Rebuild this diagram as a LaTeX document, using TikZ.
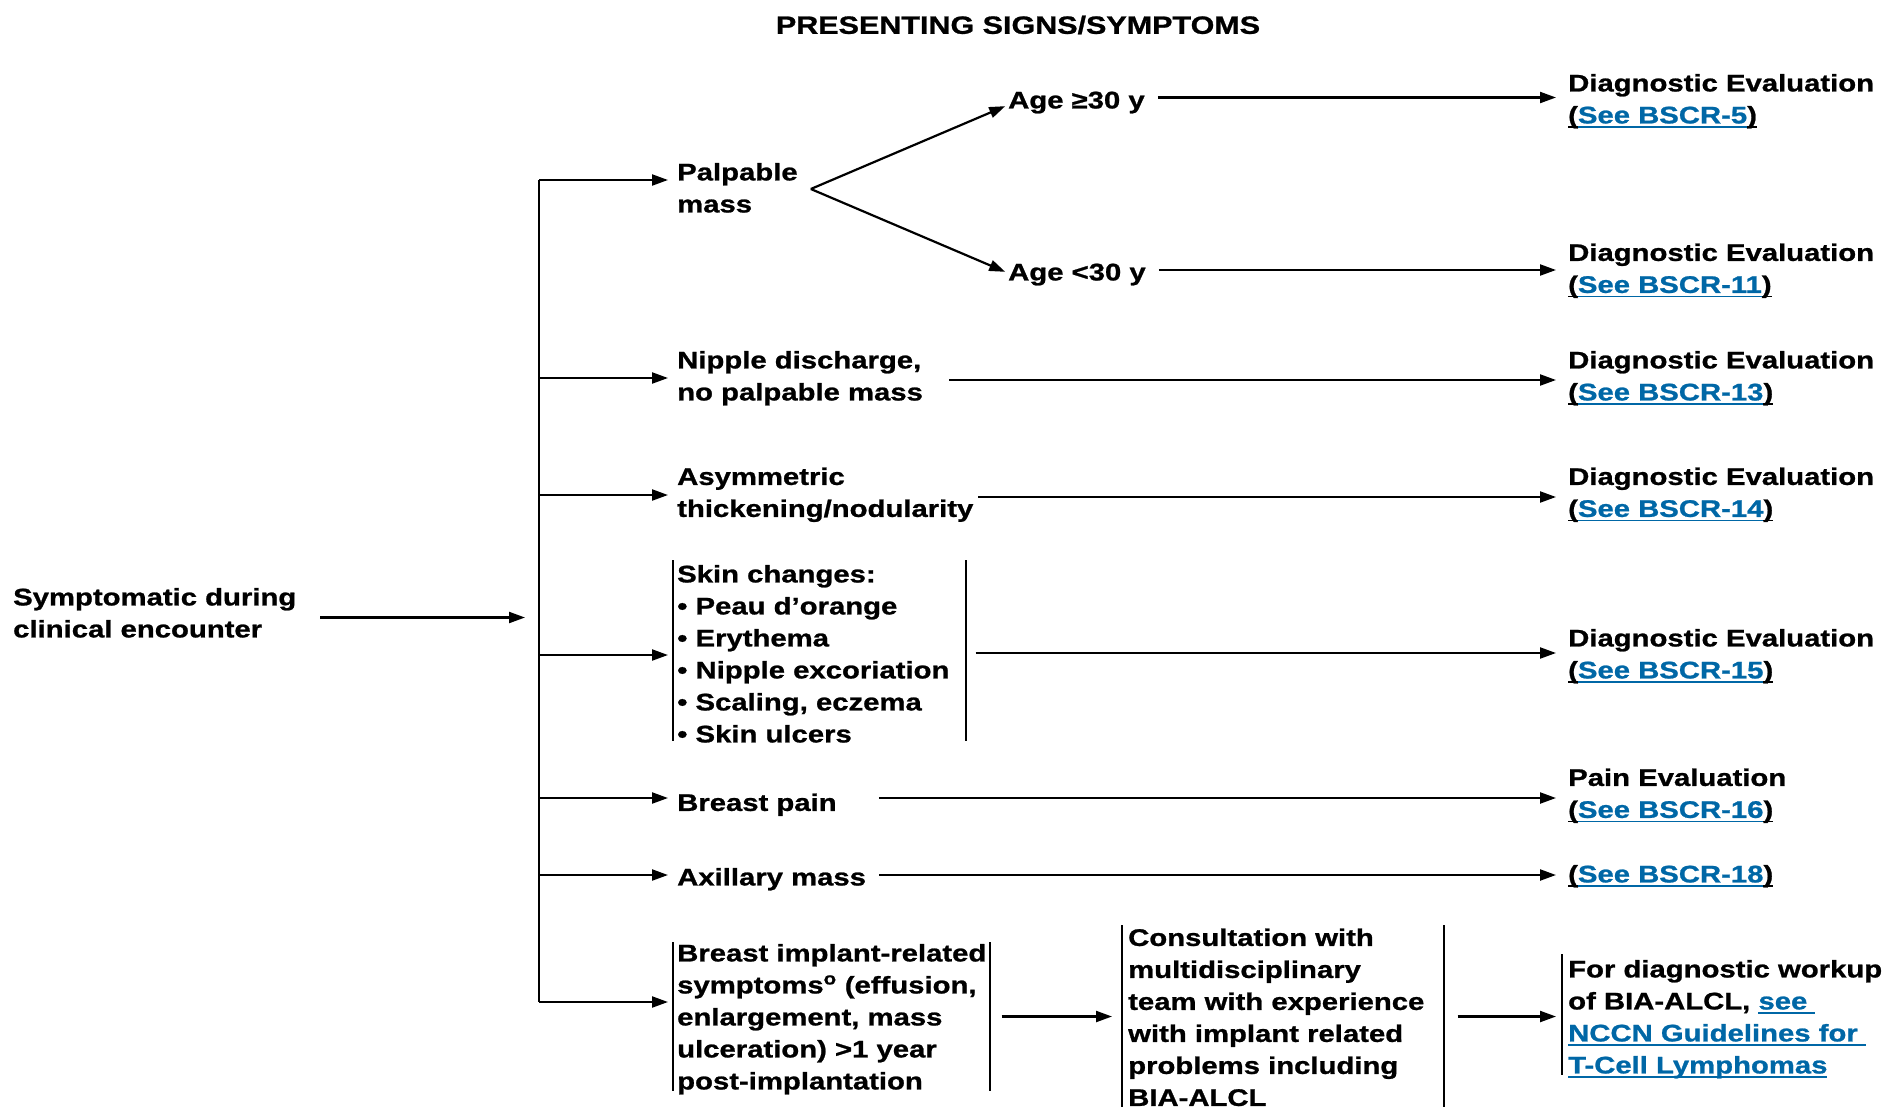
\documentclass[tikz,border=0pt]{standalone}
\usepackage{fontspec}
\setmainfont{Liberation Sans}[FakeStretch=1.22, BoldFeatures={FakeBold=1.0}]
\usetikzlibrary{arrows.meta,calc}
\definecolor{linkblue}{HTML}{0067A6}
% underline a box with a rule drawn in the current colour
\newcommand\ulbox[1]{\setbox0\hbox{#1}\rlap{\rule[-4.5pt]{\wd0}{1.8pt}}\box0}
\newcommand\seeref[1]{\ulbox{(}\textcolor{linkblue}{\ulbox{See BSCR-#1}}\ulbox{)}}
\tikzset{
  txt/.style={font=\fontsize{24}{32}\selectfont\bfseries, align=left, inner sep=0pt,
              anchor=west, execute at begin node=\strut, execute at end node=\strut},
  heading/.style={font=\fontsize{25}{30}\selectfont\bfseries, inner sep=0pt},
  ln/.style={line width=2.2pt},
  arr/.style={line width=2.2pt, -{Triangle[length=16pt,width=11pt]}},
  barline/.style={line width=2pt},
}
\begin{document}
\begin{tikzpicture}[x=1pt,y=-1pt]
\useasboundingbox (0,0) rectangle (1887,1106);
\clip (0,0) rectangle (1887,1106);

\node[heading] (title) at (1018,25) {PRESENTING SIGNS/SYMPTOMS};

% entry and presenting signs
\node[txt] (sympt) at (13,617.5) {Symptomatic during\\clinical encounter};
\node[txt] (palp) at (677,192.5) {Palpable\\mass};
\node[txt] (age30) at (1008,102) {Age ≥30 y};
\node[txt] (age29) at (1008,274) {Age <30 y};
\node[txt] (nipple) at (677,380.5) {Nipple discharge,\\no palpable mass};
\node[txt] (asym) at (677,497) {Asymmetric\\thickening/nodularity};
\node[txt] (skin) at (677,658.5) {Skin changes:\\• Peau d’orange\\• Erythema\\• Nipple excoriation\\• Scaling, eczema\\• Skin ulcers};
\node[txt] (pain) at (677,804.5) {Breast pain};
\node[txt] (axil) at (677,879) {Axillary mass};
\node[txt] (impl) at (677,1021.5) {Breast implant-related\\symptoms\textsuperscript{o} (effusion,\\enlargement, mass\\ulceration) >1 year\\post-implantation};
\node[txt] (consult) at (1128,1022) {Consultation with\\multidisciplinary\\team with experience\\with implant related\\problems including\\BIA-ALCL};

% outcomes
\node[txt] (dx5) at (1568,103.5) {Diagnostic Evaluation\\\seeref{5}};
\node[txt] (dx11) at (1568,273) {Diagnostic Evaluation\\\seeref{11}};
\node[txt] (dx13) at (1568,380.5) {Diagnostic Evaluation\\\seeref{13}};
\node[txt] (dx14) at (1568,497) {Diagnostic Evaluation\\\seeref{14}};
\node[txt] (dx15) at (1568,658.5) {Diagnostic Evaluation\\\seeref{15}};
\node[txt] (painev) at (1568,798) {Pain Evaluation\\\seeref{16}};
\node[txt] (bscr18) at (1568,876) {\seeref{18}};
\node[txt] (workup) at (1568,1021.5) {For diagnostic workup\\of BIA-ALCL, \textcolor{linkblue}{\ulbox{see\ }}\\\textcolor{linkblue}{\ulbox{NCCN Guidelines for\ }}\\\textcolor{linkblue}{\ulbox{T-Cell Lymphomas}}};

% side bars
\draw[barline] (673,560) -- (673,741);
\draw[barline] (966,560) -- (966,741);
\draw[barline] (673,942) -- (673,1091);
\draw[barline] (990,942) -- (990,1091);
\draw[barline] (1122,925) -- (1122,1110);
\draw[barline] (1444,925) -- (1444,1110);
\draw[barline] (1562,954) -- (1562,1075);

% heights of the horizontal connectors
\coordinate (ya) at (0,97.5);
\coordinate (yb) at (0,270);
\coordinate (yc) at (0,380);
\coordinate (yd) at (0,497);
\coordinate (ye) at (0,653);
\coordinate (yf) at (0,798);
\coordinate (yg) at (0,875);
\coordinate (yh) at (0,1016.5);

% trunk
\coordinate (b1) at (539,180);
\coordinate (b2) at (539,378);
\coordinate (b3) at (539,495);
\coordinate (b4) at (539,655);
\coordinate (b5) at (539,798);
\coordinate (b6) at (539,875);
\coordinate (b7) at (539,1002);
\draw[ln] (b1) -- (b7);
\draw[arr, shorten <=24pt, shorten >=14pt] (sympt.east) -- (sympt.east -| b1);
\draw[arr, shorten >=9pt] (b1) -- (b1 -| palp.west);
\draw[arr, shorten >=9pt] (b2) -- (b2 -| nipple.west);
\draw[arr, shorten >=9pt] (b3) -- (b3 -| asym.west);
\draw[arr, shorten >=9pt] (b4) -- (b4 -| skin.west);
\draw[arr, shorten >=9pt] (b5) -- (b5 -| pain.west);
\draw[arr, shorten >=9pt] (b6) -- (b6 -| axil.west);
\draw[arr, shorten >=9pt] (b7) -- (b7 -| impl.west);

% palpable mass split by age
\coordinate (fork) at ($(palp.east)+(13,-3.5)$);
\draw[arr, shorten >=3pt] (fork) -- ([yshift=-3pt]age30.west);
\draw[arr, shorten >=3pt] (fork) -- ([yshift=1pt]age29.west);

% to outcomes
\draw[arr, shorten <=13pt, shorten >=12pt] (age30.east |- ya) -- (dx5.west |- ya);
\draw[arr, shorten <=13pt, shorten >=12pt] (age29.east |- yb) -- (dx11.west |- yb);
\draw[arr, shorten <=26pt, shorten >=12pt] (nipple.east |- yc) -- (dx13.west |- yc);
\draw[arr, shorten <=5pt, shorten >=12pt] (asym.east |- yd) -- (dx14.west |- yd);
\draw[arr, shorten <=26pt, shorten >=12pt] (skin.east |- ye) -- (dx15.west |- ye);
\draw[arr, shorten <=42pt, shorten >=12pt] (pain.east |- yf) -- (painev.west |- yf);
\draw[arr, shorten <=13pt, shorten >=12pt] (axil.east |- yg) -- (bscr18.west |- yg);
\draw[arr, shorten <=15pt, shorten >=16pt] (impl.east |- yh) -- (consult.west |- yh);
\draw[arr, shorten <=33pt, shorten >=12pt] (consult.east |- yh) -- (workup.west |- yh);
\end{tikzpicture}
\end{document}
